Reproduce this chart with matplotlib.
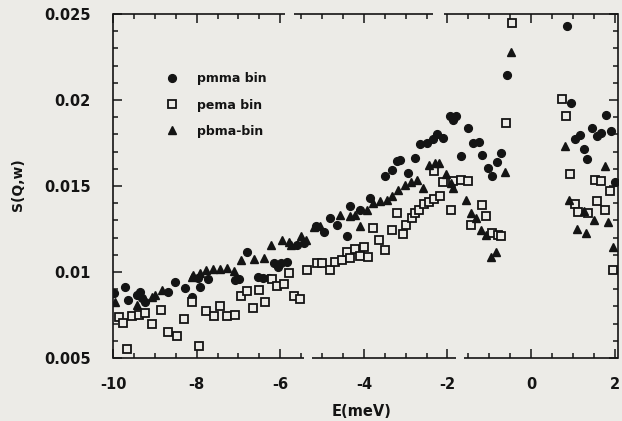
import numpy as np
import matplotlib
matplotlib.use("Agg")
import matplotlib.pyplot as plt
from matplotlib.lines import Line2D
from matplotlib.ticker import MultipleLocator, FixedFormatter, FixedLocator
import matplotlib.transforms as mtransforms

plt.rcParams["font.family"] = "DejaVu Sans"
plt.rcParams["font.weight"] = "bold"
plt.rcParams["axes.unicode_minus"] = False

# energy transfer (meV) and S(Q,w) for each binned sample
pmma_e = [-9.97, -9.71, -9.63, -9.43, -9.35, -9.31, -9.23, -8.68, -8.52, -8.28,
          -8.12, -7.97, -7.93, -7.73, -7.09, -6.98, -6.79, -6.54, -6.42, -6.26,
          -6.14, -6.06, -5.99, -5.83, -5.59, -5.43, -5.15, -4.95, -4.80, -4.64,
          -4.40, -4.32, -4.09, -3.85, -3.49, -3.33, -3.21, -3.14, -2.94, -2.78,
          -2.66, -2.50, -2.34, -2.26, -2.11, -1.95, -1.87, -1.79, -1.67, -1.51,
          -1.39, -1.24, -1.17, -1.04, -0.93, -0.82, -0.72, -0.58, 0.85, 0.96,
          1.06, 1.18, 1.26, 1.34, 1.46, 1.57, 1.68, 1.80, 1.91, 2.00]
pmma_s = [0.00880, 0.00915, 0.00840, 0.00866, 0.00886, 0.00847, 0.00827, 0.00886, 0.00944, 0.00905,
          0.00856, 0.00964, 0.00915, 0.00958, 0.00954, 0.00958, 0.01119, 0.00973, 0.00964, 0.00964,
          0.01051, 0.01028, 0.01055, 0.01061, 0.01158, 0.01168, 0.01265, 0.01230, 0.01314, 0.01275,
          0.01207, 0.01382, 0.01362, 0.01431, 0.01557, 0.01596, 0.01644, 0.01654, 0.01576, 0.01664,
          0.01742, 0.01751, 0.01771, 0.01800, 0.01781, 0.01907, 0.01883, 0.01907, 0.01673, 0.01839,
          0.01751, 0.01755, 0.01683, 0.01606, 0.01561, 0.01638, 0.01693, 0.02144, 0.02428, 0.01981,
          0.01775, 0.01794, 0.01716, 0.01658, 0.01839, 0.01790, 0.01806, 0.01911, 0.01819, 0.01522]

pema_e = [-9.86, -9.75, -9.67, -9.55, -9.39, -9.23, -9.07, -8.85, -8.68, -8.48,
          -8.30, -8.12, -7.95, -7.77, -7.59, -7.43, -7.27, -7.09, -6.95, -6.79,
          -6.66, -6.50, -6.37, -6.20, -6.08, -5.92, -5.79, -5.68, -5.53, -5.37,
          -5.11, -4.99, -4.80, -4.68, -4.52, -4.40, -4.32, -4.20, -4.09, -3.99,
          -3.89, -3.77, -3.63, -3.49, -3.33, -3.21, -3.07, -2.98, -2.86, -2.78,
          -2.68, -2.57, -2.44, -2.33, -2.33, -2.19, -2.11, -1.91, -1.87, -1.67,
          -1.51, -1.43, -1.17, -1.08, -0.93, -0.78, -0.72, -0.60, -0.46, 0.74,
          0.84, 0.94, 1.05, 1.13, 1.36, 1.52, 1.57, 1.68, 1.77, 1.89, 1.97]
pema_s = [0.00736, 0.00701, 0.00555, 0.00744, 0.00750, 0.00760, 0.00697, 0.00779, 0.00652, 0.00627,
          0.00725, 0.00827, 0.00571, 0.00775, 0.00744, 0.00802, 0.00744, 0.00750, 0.00861, 0.00890,
          0.00789, 0.00896, 0.00826, 0.00958, 0.00919, 0.00931, 0.00993, 0.00861, 0.00841, 0.01012,
          0.01055, 0.01055, 0.01012, 0.01061, 0.01067, 0.01119, 0.01080, 0.01133, 0.01094, 0.01148,
          0.01090, 0.01256, 0.01187, 0.01129, 0.01246, 0.01343, 0.01222, 0.01275, 0.01314, 0.01343,
          0.01362, 0.01397, 0.01405, 0.01425, 0.01586, 0.01444, 0.01522, 0.01362, 0.01527, 0.01537,
          0.01527, 0.01275, 0.01391, 0.01327, 0.01226, 0.01216, 0.01207, 0.01864, 0.02447, 0.02008,
          0.01907, 0.01572, 0.01397, 0.01347, 0.01343, 0.01537, 0.01411, 0.01527, 0.01362, 0.01469, 0.01012]

pbma_e = [-9.95, -9.43, -9.07, -9.00, -8.84, -8.12, -8.08, -7.93, -7.77, -7.60,
          -7.43, -7.27, -7.11, -6.95, -6.63, -6.38, -6.21, -5.95, -5.79, -5.75,
          -5.51, -5.39, -5.19, -5.04, -4.56, -4.32, -4.20, -4.10, -3.93, -3.77,
          -3.61, -3.45, -3.33, -3.18, -3.02, -2.88, -2.74, -2.58, -2.44, -2.30,
          -2.20, -2.03, -1.91, -1.87, -1.55, -1.43, -1.31, -1.20, -1.08, -0.96,
          -0.84, -0.62, -0.48, 0.82, 0.90, 1.10, 1.26, 1.31, 1.50, 1.76, 1.85, 1.95]
pbma_s = [0.00827, 0.00808, 0.00856, 0.00866, 0.00896, 0.00973, 0.00983, 0.00993, 0.01012, 0.01016,
          0.01016, 0.01022, 0.01008, 0.01071, 0.01075, 0.01080, 0.01158, 0.01187, 0.01177, 0.01158,
          0.01207, 0.01187, 0.01259, 0.01269, 0.01333, 0.01323, 0.01333, 0.01269, 0.01362, 0.01401,
          0.01411, 0.01421, 0.01440, 0.01479, 0.01508, 0.01522, 0.01537, 0.01489, 0.01625, 0.01635,
          0.01631, 0.01567, 0.01518, 0.01489, 0.01421, 0.01343, 0.01314, 0.01246, 0.01216, 0.01090,
          0.01119, 0.01580, 0.02277, 0.01732, 0.01421, 0.01250, 0.01352, 0.01226, 0.01304, 0.01615,
          0.01288, 0.01148]

x_ticks = [-10, -8, -6, -4, -2, 0, 2]
y_ticks = [0.005, 0.01, 0.015, 0.02, 0.025]
y_tick_labels = ["0.005", "0.01", "0.015", "0.02", "0.025"]

# breaks in the frame lines (meV)
top_gaps = [(-5.89, -5.67), (-2.34, -2.08)]
bottom_gaps = [(-5.43, -5.24), (-1.79, -1.60)]

paper = "#ecebe7"
ink = "#141414"

fig = plt.figure(figsize=(6.22, 4.21), dpi=100, facecolor=paper)
ax = fig.add_axes([0.1817, 0.1496, 0.8119, 0.8171], facecolor=paper)

ax.plot(pmma_e, pmma_s, "o", ls="none", ms=5.6, color=ink, mec=ink)
ax.plot(pema_e, pema_s, "s", ls="none", ms=5.4, mfc=paper, mec=ink, mew=1.3)
ax.plot(pbma_e, pbma_s, "^", ls="none", ms=5.8, color=ink, mec=ink)

xmin, xmax = -10.0, 2.08
ax.set_xlim(xmin, xmax)
ax.set_ylim(0.005, 0.025)

ax.xaxis.set_major_locator(FixedLocator(x_ticks))
ax.xaxis.set_minor_locator(MultipleLocator(0.5))
ax.yaxis.set_major_locator(FixedLocator(y_ticks))
ax.yaxis.set_major_formatter(FixedFormatter(y_tick_labels))
ax.yaxis.set_minor_locator(MultipleLocator(0.001))

ax.tick_params(which="both", direction="in", top=True, right=True,
               color=ink, width=1.1)
ax.tick_params(which="major", length=6.5)
ax.tick_params(which="minor", length=3.5)
ax.tick_params(axis="x", which="major", pad=14, labelsize=10.5, labelcolor=ink)
ax.tick_params(axis="y", which="major", pad=16, labelsize=10.5, labelcolor=ink)

for side in ["left", "right"]:
    ax.spines[side].set_linewidth(1.2)
    ax.spines[side].set_color(ink)
ax.spines["top"].set_visible(False)
ax.spines["bottom"].set_visible(False)

# top and bottom frame lines drawn in pieces
trans = mtransforms.blended_transform_factory(ax.transData, ax.transAxes)


def frame_pieces(gaps):
    edges = [xmin] + [v for g in gaps for v in g] + [xmax]
    return [(edges[i], edges[i + 1]) for i in range(0, len(edges), 2)]


for yy, gaps in [(1.0, top_gaps), (0.0, bottom_gaps)]:
    for a, b in frame_pieces(gaps):
        ax.plot([a, b], [yy, yy], color=ink, lw=1.2, transform=trans,
                clip_on=False, solid_capstyle="butt")

handles = [
    Line2D([], [], marker="o", ls="none", ms=5.6, color=ink),
    Line2D([], [], marker="s", ls="none", ms=5.4, mfc=paper, mec=ink, mew=1.3),
    Line2D([], [], marker="^", ls="none", ms=5.8, color=ink),
]
ax.legend(handles, ["pmma bin", "pema bin", "pbma-bin"], loc="upper left",
          bbox_to_anchor=(0.1045, 0.83), frameon=False, borderpad=0,
          borderaxespad=0, handlelength=1.0, handletextpad=1.5,
          labelspacing=1.05, prop={"size": 9, "weight": "bold"},
          labelcolor=ink)

fig.text(18 / 622, 1 - 185 / 421, "S(Q,w)", rotation=90, ha="center",
         va="center", fontsize=10, fontweight="bold", color=ink)
fig.text(362 / 622, 1 - 412 / 421, "E(meV)", ha="center", va="center",
         fontsize=10.5, fontweight="bold", color=ink)

fig.savefig("out.png", dpi=100, facecolor=paper)
